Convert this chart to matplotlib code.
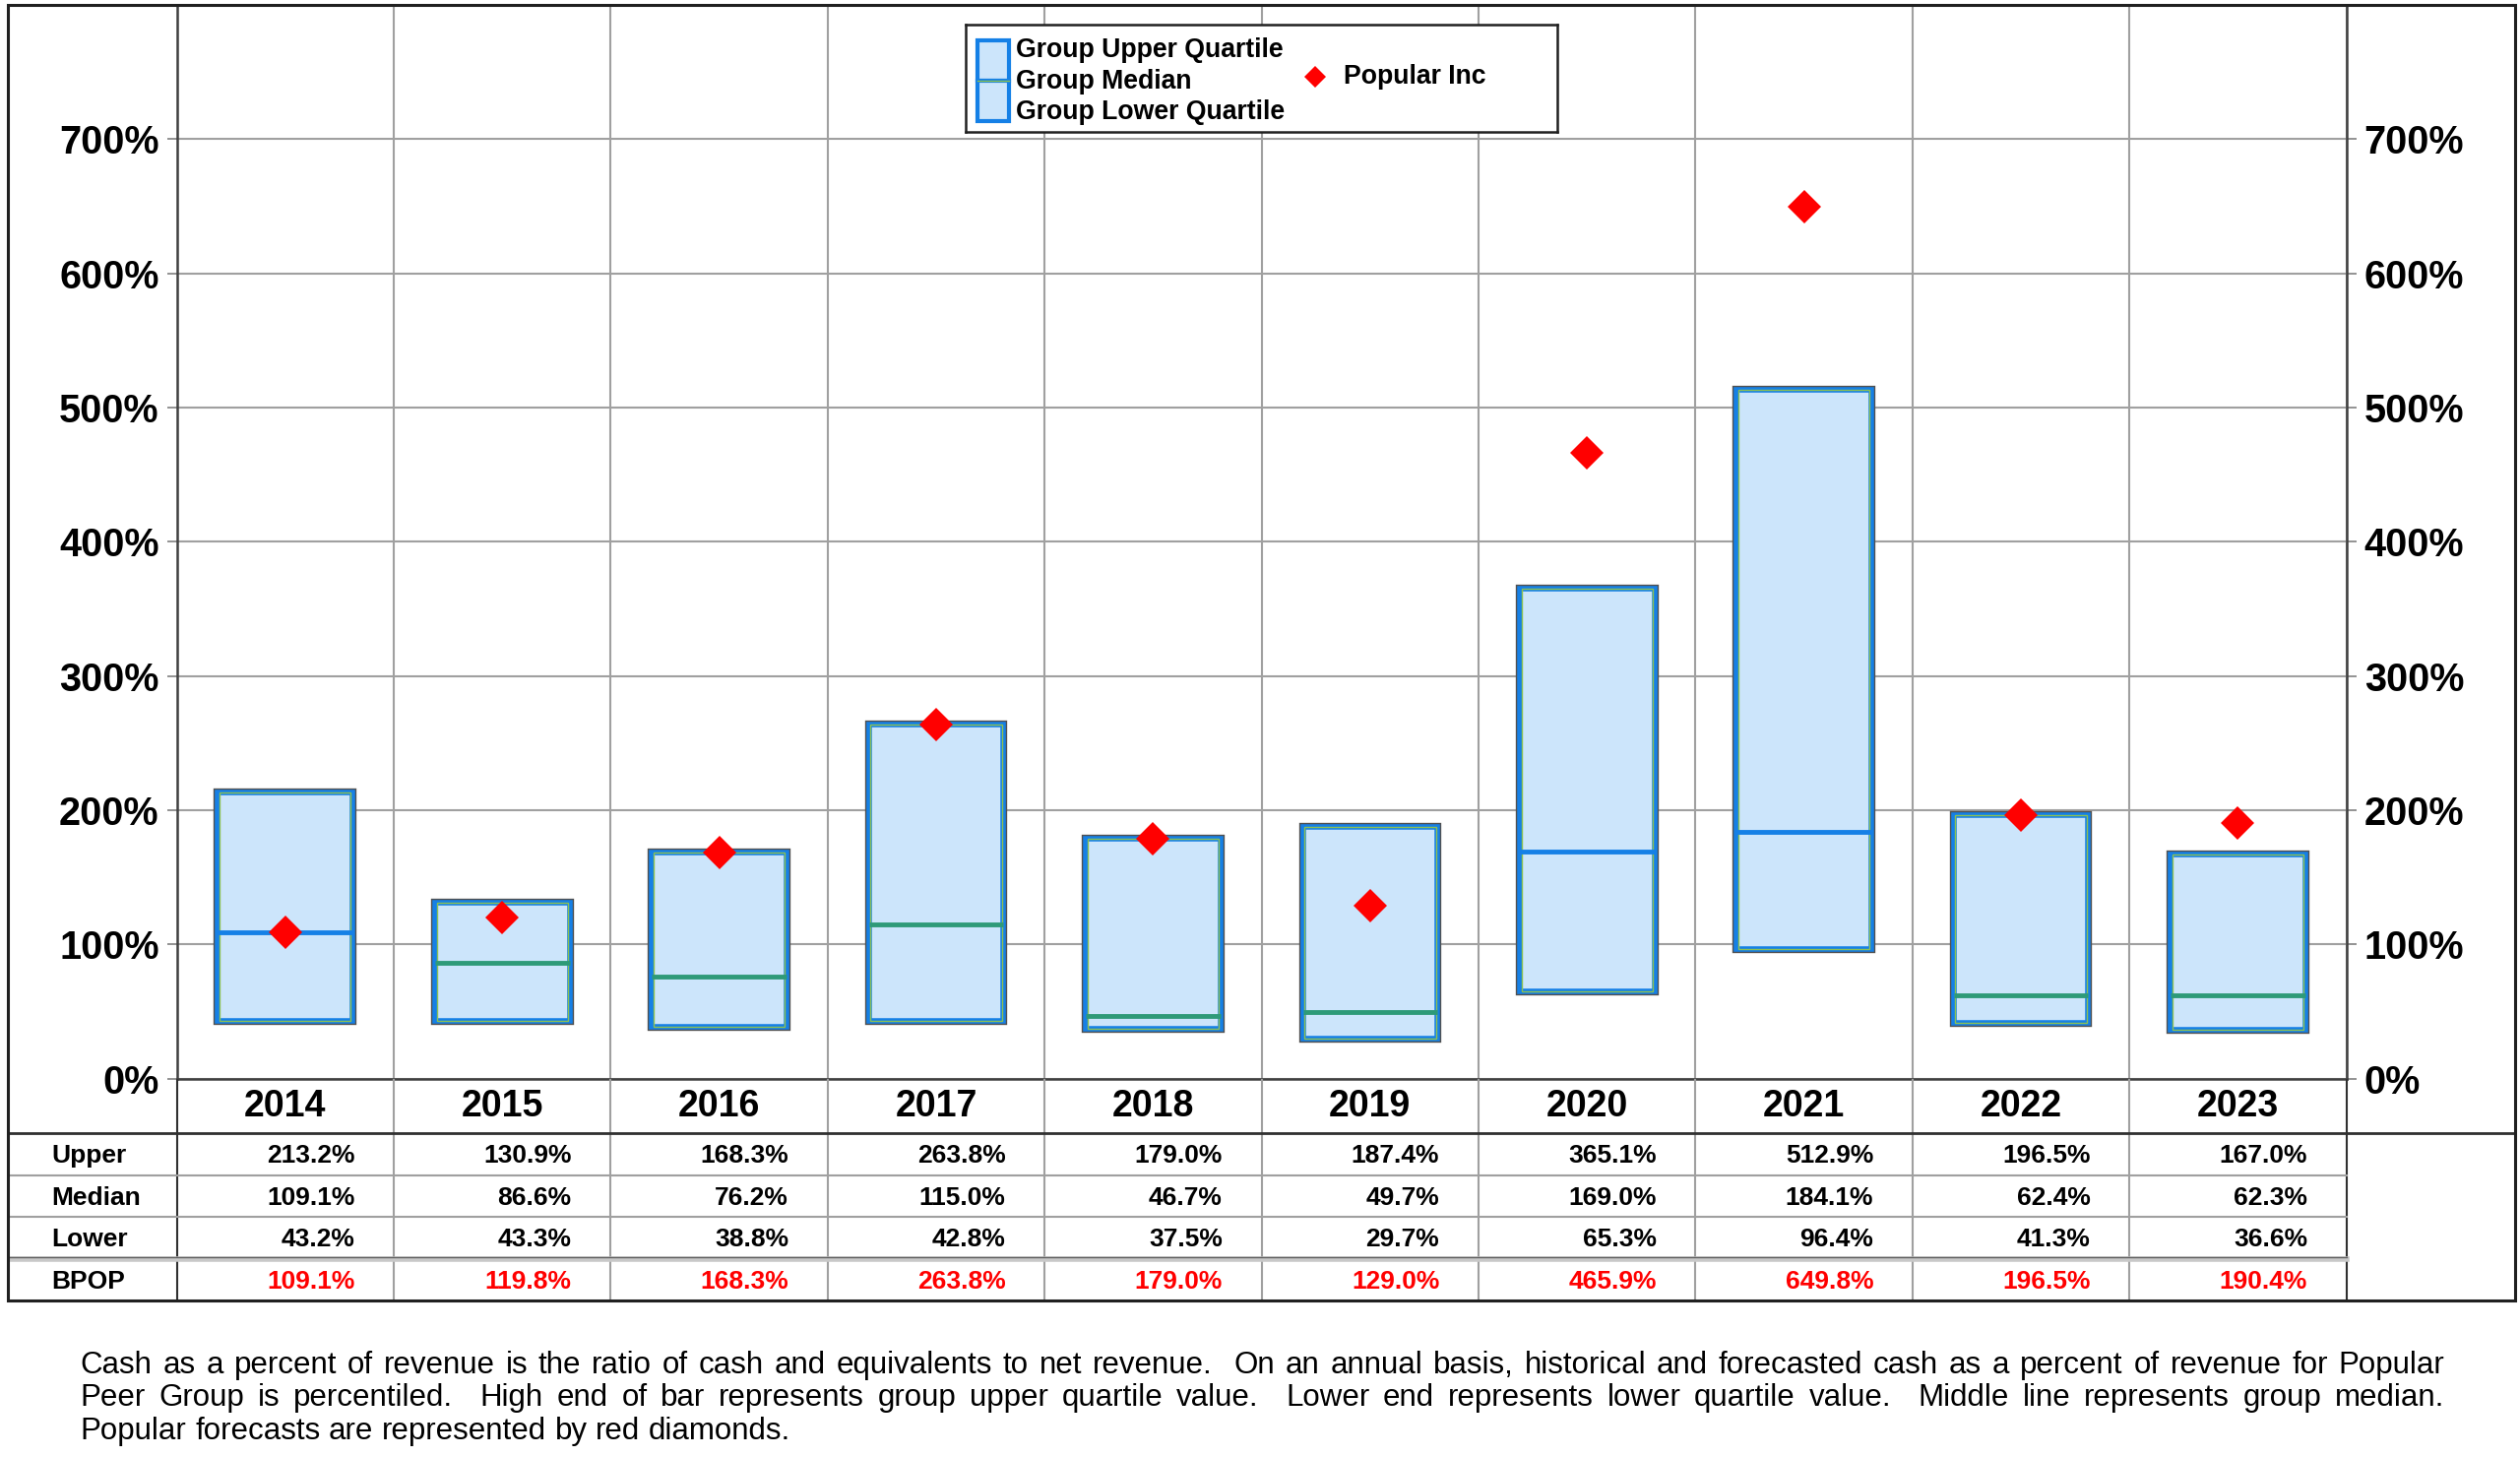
import numpy as np
import matplotlib.pyplot as plt
from matplotlib.patches import Rectangle

years = ['2014', '2015', '2016', '2017', '2018', '2019', '2020', '2021', '2022', '2023']
upper = [213.2, 130.9, 168.3, 263.8, 179.0, 187.4, 365.1, 512.9, 196.5, 167.0]
median = [109.1, 86.6, 76.2, 115.0, 46.7, 49.7, 169.0, 184.1, 62.4, 62.3]
lower = [43.2, 43.3, 38.8, 42.8, 37.5, 29.7, 65.3, 96.4, 41.3, 36.6]
bpop = [109.1, 119.8, 168.3, 263.8, 179.0, 129.0, 465.9, 649.8, 196.5, 190.4]
row_names = ['Upper', 'Median', 'Lower', 'BPOP']
yticks = [0, 100, 200, 300, 400, 500, 600, 700]

note = ["Cash as a percent of revenue is the ratio of cash and equivalents to net revenue.  On an annual basis, "
        "historical and forecasted cash as a percent of revenue for Popular",
        "Peer Group is percentiled.  High end of bar represents group upper quartile value.  "
        "Lower end represents lower quartile value.  Middle line represents group median.",
        "Popular forecasts are represented by red diamonds."]

BLUE = '#1580e6'
GREEN = '#2e9a78'
FILL = '#cce5fb'
GRID = '#a0a0a0'
med_colors = [BLUE, GREEN, GREEN, GREEN, GREEN, GREEN, BLUE, BLUE, GREEN, GREEN]

plt.rcParams['font.family'] = ['Liberation Sans', 'DejaVu Sans']

fig = plt.figure(figsize=(25.6, 14.8), dpi=100)

# perceived layout (1568 x 905 grid)
W, H = 1568.0, 905.0
def fx(v):
    return v / W
def fy(v):
    return 1 - v / H

x = np.arange(len(years))
n = len(years)
extra = 105 / 135.0

# main chart
ax = fig.add_axes([fx(110), fy(670), fx(1350), 667 / H])
ax.set_xlim(-0.5, n - 0.5)
ax.set_ylim(0, 800)
ax.set_xticks(x)
ax.set_xticks(np.arange(n + 1) - 0.5, minor=True)
ax.tick_params(axis='x', which='both', length=0, labelbottom=False)
ax.set_yticks(yticks)
ax.set_yticklabels([f'{v}%' for v in yticks])
ax.tick_params(axis='y', length=7, width=1.2, color='#808080', labelsize=28.5,
               labelleft=True, labelright=True, left=True, right=True, pad=6)
for lab in ax.get_yticklabels():
    lab.set_fontweight('bold')
ax.grid(True, axis='y', color=GRID, lw=1.5)
ax.grid(True, axis='x', which='minor', color=GRID, lw=1.5)
ax.set_axisbelow(True)
ax.spines['top'].set_visible(False)
for s in ['left', 'right', 'bottom']:
    ax.spines[s].set_color('#404040')
    ax.spines[s].set_linewidth(1.8)

heights = np.array(upper) - np.array(lower)
ax.bar(x, heights, bottom=lower, width=0.62, color=FILL, edgecolor='#505050', linewidth=6, zorder=3)
ax.bar(x, heights, bottom=lower, width=0.62, color=FILL, edgecolor=BLUE, linewidth=4, zorder=3)
ax.bar(x, heights, bottom=lower, width=0.605, color='none', edgecolor='#8cc152', linewidth=1, zorder=3)
ax.hlines(median, x - 0.31, x + 0.31, colors=med_colors, lw=3.5, zorder=4)
ax.plot(x, bpop, linestyle='none', marker='D', markersize=17, color='#ff0000',
        markeredgewidth=0, zorder=5)

# table
tab = fig.add_axes([fx(5), fy(808), fx(1560), 138 / H])
tab.set_xlim(-0.5 - extra, n - 0.5 + extra)
tab.set_ylim(138, 0)
tab.axis('off')
rows = [0, 34, 60, 86, 112, 138]
for k in range(n + 1):
    tab.plot([k - 0.5, k - 0.5], [0, 138], color=GRID if 0 < k < n else '#303030', lw=1.5)
tab.plot([-0.5 - extra, n - 0.5 + extra], [34, 34], color='#303030', lw=2)
for r in [60, 86]:
    tab.plot([-0.5 - extra, n - 0.5], [r, r], color=GRID, lw=1.5)
tab.plot([-0.5 - extra, n - 0.5], [112, 112], color='#c8c8c8', lw=4)
tab.plot([-0.5 - extra, n - 0.5], [110.8, 110.8], color='#606060', lw=1)
for i, yr in enumerate(years):
    tab.text(i, 17.5, yr, ha='center', va='center', fontsize=27, fontweight='bold')
table_rows = [upper, median, lower, bpop]
for j, (name, vals) in enumerate(zip(row_names, table_rows)):
    yc = (rows[j + 1] + rows[j + 2]) / 2 + 1
    tab.text(-0.5 - extra + 0.2, yc, name, ha='left', va='center', fontsize=19, fontweight='bold')
    for i, v in enumerate(vals):
        tab.text(i + 0.32, yc, f'{v:.1f}%', ha='right', va='center', fontsize=19, fontweight='bold',
                 color='#ff0000' if name == 'BPOP' else 'black')

# outer frame
fig.add_artist(Rectangle((fx(5), fy(808)), fx(1560), 805 / H, transform=fig.transFigure,
                         fill=False, edgecolor='#202020', lw=2.2))

# legend
lg = fig.add_axes([fx(601), fy(82), fx(368), 67 / H])
lg.set_xlim(0, 368)
lg.set_ylim(67, 0)
lg.set_xticks([])
lg.set_yticks([])
for s in lg.spines.values():
    s.set_linewidth(1.8)
    s.set_color('#202020')
lg.add_patch(Rectangle((7, 10), 20, 25, facecolor=FILL, edgecolor=BLUE, lw=3))
lg.add_patch(Rectangle((7, 35), 20, 25, facecolor=FILL, edgecolor=BLUE, lw=3))
lg.plot([7, 27], [35, 35], color='#8cc152', lw=1)
for yy, t in zip([16, 36, 55], ['Group Upper Quartile', 'Group Median', 'Group Lower Quartile']):
    lg.text(31, yy, t, ha='left', va='center', fontsize=19.2, fontweight='bold')
lg.plot([217], [33], linestyle='none', marker='D', markersize=11, color='#ff0000', markeredgewidth=0)
lg.text(235, 33, 'Popular Inc', ha='left', va='center', fontsize=19.2, fontweight='bold')

# justified footnote
renderer = fig.canvas.get_renderer()
left, right = fx(50), fx(1521)
fs = 22.5
for li, line in enumerate(note):
    yy = fy(848 + li * 20.5)
    words = line.split(' ')
    objs = [fig.text(0, yy, w, ha='left', va='center', fontsize=fs) for w in words]
    widths = [o.get_window_extent(renderer).width / fig.bbox.width for o in objs]
    if li < len(note) - 1:
        gap = (right - left - sum(widths)) / (len(words) - 1)
    else:
        sp = fig.text(0, 0, 'a a', fontsize=fs)
        sp2 = fig.text(0, 0, 'aa', fontsize=fs)
        gap = (sp.get_window_extent(renderer).width - sp2.get_window_extent(renderer).width) / fig.bbox.width
        sp.remove()
        sp2.remove()
    pos = left
    for o, wd in zip(objs, widths):
        o.set_x(pos)
        pos += wd + gap

fig.savefig('out.png', dpi=100)
